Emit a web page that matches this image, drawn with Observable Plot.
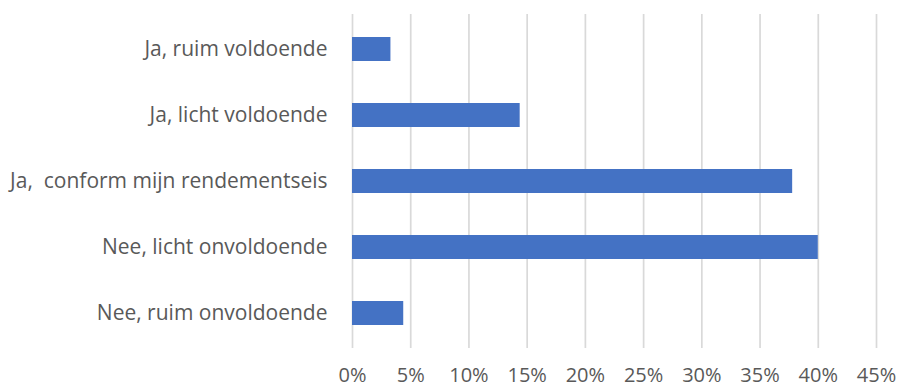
<!DOCTYPE html>
<html>
<head>
<meta charset="utf-8">
<script src="https://cdn.jsdelivr.net/npm/d3@7"></script>
<script src="https://cdn.jsdelivr.net/npm/@observablehq/plot@0.6"></script>
<style>
  body { margin: 0; background: #fff; }
  #chart svg { display: block; }
  #chart text { white-space: pre; }
</style>
</head>
<body>
<div id="chart"></div>
<script>
const categories = [
  "Ja, ruim voldoende",
  "Ja, licht voldoende",
  "Ja,  conform mijn rendementseis",
  "Nee, licht onvoldoende",
  "Nee, ruim onvoldoende"
];
const values = [0.033, 0.144, 0.378, 0.400, 0.044];
const xTicks = [0, 0.05, 0.10, 0.15, 0.20, 0.25, 0.30, 0.35, 0.40, 0.45];

const data = categories.map((c, i) => ({category: c, value: values[i]}));
const pct = d => Math.round(d * 100) + "%";

const chart = Plot.plot({
  width: 898,
  height: 389,
  marginLeft: 352,
  marginRight: 22,
  marginTop: 14,
  marginBottom: 41,
  style: {fontFamily: "'Open Sans', sans-serif", color: "#595959", background: "#fff"},
  x: {domain: [0, 0.45], ticks: xTicks, tickFormat: pct, label: null},
  y: {domain: categories, paddingInner: 0.64, paddingOuter: 0.32, label: null},
  marks: [
    Plot.ruleX(xTicks, {stroke: "#d9d9d9", strokeWidth: 1.7}),
    Plot.barX(data, {x: "value", y: "category", fill: "#4472C4"}),
    Plot.axisX({ticks: xTicks, tickSize: 0, tickPadding: 19, fontSize: 20, tickFormat: pct, label: null, fill: "#595959"}),
    Plot.axisY({tickSize: 0, tickPadding: 25, fontSize: 21, label: null, fill: "#595959"})
  ]
});
document.getElementById("chart").appendChild(chart);
</script>
</body>
</html>
